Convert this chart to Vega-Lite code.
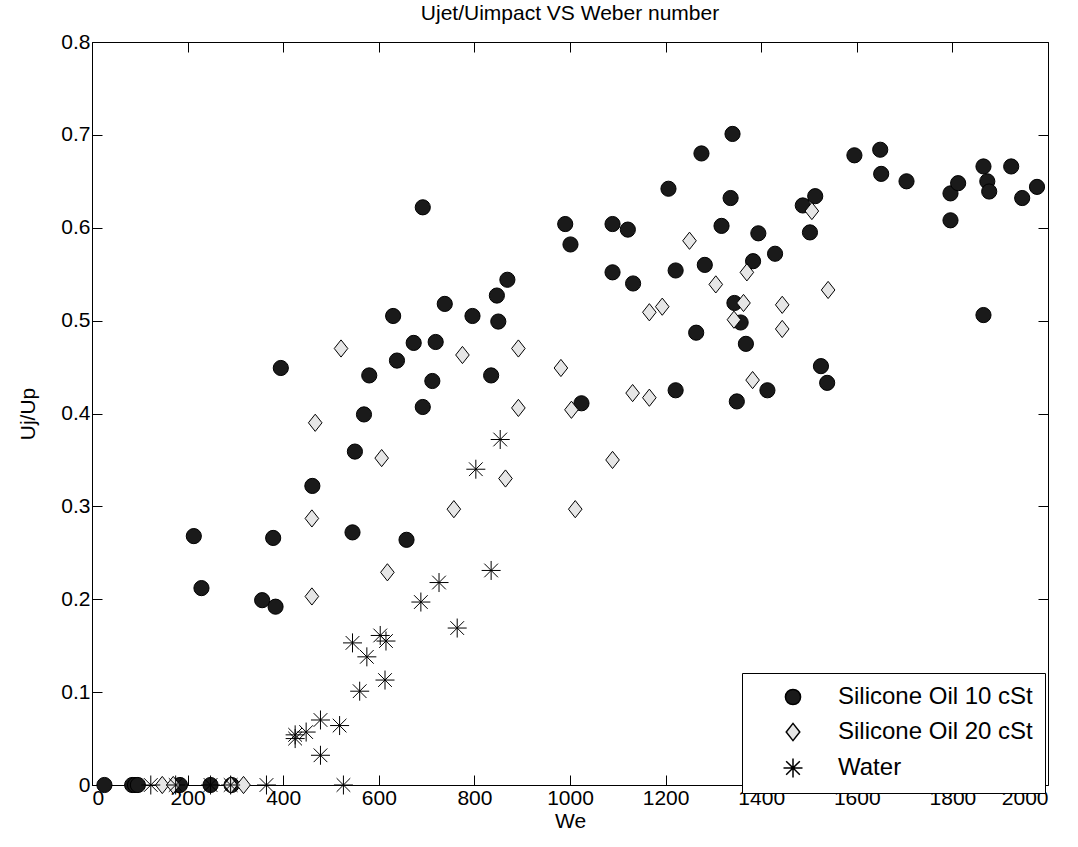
{
  "$schema": "https://vega.github.io/schema/vega-lite/v6.json",
  "width": 956,
  "height": 743,
  "autosize": {"type": "none"},
  "padding": {"left": 92, "top": 42, "right": 30, "bottom": 62},
  "background": "white",
  "config": {
    "font": "Liberation Sans",
    "view": {"stroke": "black", "strokeWidth": 1},
    "axis": {"grid": false, "domainColor": "black", "tickColor": "black", "labelColor": "black", "titleColor": "black", "labelFont": "Liberation Sans", "titleFont": "Liberation Sans", "labelFontSize": 21, "titleFontSize": 21, "titleFontWeight": "normal", "tickSize": -10, "zindex": 0},
    "legend": {"title": null, "orient": "none", "legendX": 650, "legendY": 631, "strokeColor": "black", "fillColor": "white", "cornerRadius": 0, "padding": 12, "rowPadding": 11, "symbolOffset": 27, "labelOffset": 33, "labelFontSize": 24, "labelFont": "Liberation Sans", "labelColor": "black", "labelLimit": 400, "zindex": 5}
  },
  "title": {"text": "Ujet/Uimpact VS Weber number", "fontSize": 21, "fontWeight": "normal", "font": "Liberation Sans", "color": "black", "offset": 7},
  "data": {"values": [
    {"We": 26, "v": 0, "series": "Silicone Oil 10 cSt"},
    {"We": 84, "v": 0, "series": "Silicone Oil 10 cSt"},
    {"We": 90, "v": 0, "series": "Silicone Oil 10 cSt"},
    {"We": 96, "v": 0, "series": "Silicone Oil 10 cSt"},
    {"We": 184, "v": 0, "series": "Silicone Oil 10 cSt"},
    {"We": 248, "v": 0, "series": "Silicone Oil 10 cSt"},
    {"We": 292, "v": 0, "series": "Silicone Oil 10 cSt"},
    {"We": 213, "v": 0.268, "series": "Silicone Oil 10 cSt"},
    {"We": 229, "v": 0.212, "series": "Silicone Oil 10 cSt"},
    {"We": 356, "v": 0.199, "series": "Silicone Oil 10 cSt"},
    {"We": 379, "v": 0.266, "series": "Silicone Oil 10 cSt"},
    {"We": 384, "v": 0.192, "series": "Silicone Oil 10 cSt"},
    {"We": 395, "v": 0.449, "series": "Silicone Oil 10 cSt"},
    {"We": 461, "v": 0.322, "series": "Silicone Oil 10 cSt"},
    {"We": 545, "v": 0.272, "series": "Silicone Oil 10 cSt"},
    {"We": 550, "v": 0.359, "series": "Silicone Oil 10 cSt"},
    {"We": 569, "v": 0.399, "series": "Silicone Oil 10 cSt"},
    {"We": 580, "v": 0.441, "series": "Silicone Oil 10 cSt"},
    {"We": 630, "v": 0.505, "series": "Silicone Oil 10 cSt"},
    {"We": 638, "v": 0.457, "series": "Silicone Oil 10 cSt"},
    {"We": 658, "v": 0.264, "series": "Silicone Oil 10 cSt"},
    {"We": 673, "v": 0.476, "series": "Silicone Oil 10 cSt"},
    {"We": 692, "v": 0.622, "series": "Silicone Oil 10 cSt"},
    {"We": 692, "v": 0.407, "series": "Silicone Oil 10 cSt"},
    {"We": 712, "v": 0.435, "series": "Silicone Oil 10 cSt"},
    {"We": 719, "v": 0.477, "series": "Silicone Oil 10 cSt"},
    {"We": 738, "v": 0.518, "series": "Silicone Oil 10 cSt"},
    {"We": 796, "v": 0.505, "series": "Silicone Oil 10 cSt"},
    {"We": 835, "v": 0.441, "series": "Silicone Oil 10 cSt"},
    {"We": 847, "v": 0.527, "series": "Silicone Oil 10 cSt"},
    {"We": 850, "v": 0.499, "series": "Silicone Oil 10 cSt"},
    {"We": 869, "v": 0.544, "series": "Silicone Oil 10 cSt"},
    {"We": 990, "v": 0.604, "series": "Silicone Oil 10 cSt"},
    {"We": 1001, "v": 0.582, "series": "Silicone Oil 10 cSt"},
    {"We": 1024, "v": 0.411, "series": "Silicone Oil 10 cSt"},
    {"We": 1089, "v": 0.604, "series": "Silicone Oil 10 cSt"},
    {"We": 1089, "v": 0.552, "series": "Silicone Oil 10 cSt"},
    {"We": 1121, "v": 0.598, "series": "Silicone Oil 10 cSt"},
    {"We": 1132, "v": 0.54, "series": "Silicone Oil 10 cSt"},
    {"We": 1206, "v": 0.642, "series": "Silicone Oil 10 cSt"},
    {"We": 1221, "v": 0.554, "series": "Silicone Oil 10 cSt"},
    {"We": 1221, "v": 0.425, "series": "Silicone Oil 10 cSt"},
    {"We": 1264, "v": 0.487, "series": "Silicone Oil 10 cSt"},
    {"We": 1275, "v": 0.68, "series": "Silicone Oil 10 cSt"},
    {"We": 1282, "v": 0.56, "series": "Silicone Oil 10 cSt"},
    {"We": 1317, "v": 0.602, "series": "Silicone Oil 10 cSt"},
    {"We": 1336, "v": 0.632, "series": "Silicone Oil 10 cSt"},
    {"We": 1340, "v": 0.701, "series": "Silicone Oil 10 cSt"},
    {"We": 1344, "v": 0.519, "series": "Silicone Oil 10 cSt"},
    {"We": 1349, "v": 0.413, "series": "Silicone Oil 10 cSt"},
    {"We": 1357, "v": 0.498, "series": "Silicone Oil 10 cSt"},
    {"We": 1368, "v": 0.475, "series": "Silicone Oil 10 cSt"},
    {"We": 1383, "v": 0.564, "series": "Silicone Oil 10 cSt"},
    {"We": 1394, "v": 0.594, "series": "Silicone Oil 10 cSt"},
    {"We": 1413, "v": 0.425, "series": "Silicone Oil 10 cSt"},
    {"We": 1429, "v": 0.572, "series": "Silicone Oil 10 cSt"},
    {"We": 1487, "v": 0.624, "series": "Silicone Oil 10 cSt"},
    {"We": 1502, "v": 0.595, "series": "Silicone Oil 10 cSt"},
    {"We": 1513, "v": 0.634, "series": "Silicone Oil 10 cSt"},
    {"We": 1525, "v": 0.451, "series": "Silicone Oil 10 cSt"},
    {"We": 1538, "v": 0.433, "series": "Silicone Oil 10 cSt"},
    {"We": 1595, "v": 0.678, "series": "Silicone Oil 10 cSt"},
    {"We": 1649, "v": 0.684, "series": "Silicone Oil 10 cSt"},
    {"We": 1651, "v": 0.658, "series": "Silicone Oil 10 cSt"},
    {"We": 1704, "v": 0.65, "series": "Silicone Oil 10 cSt"},
    {"We": 1796, "v": 0.637, "series": "Silicone Oil 10 cSt"},
    {"We": 1796, "v": 0.608, "series": "Silicone Oil 10 cSt"},
    {"We": 1812, "v": 0.648, "series": "Silicone Oil 10 cSt"},
    {"We": 1865, "v": 0.666, "series": "Silicone Oil 10 cSt"},
    {"We": 1865, "v": 0.506, "series": "Silicone Oil 10 cSt"},
    {"We": 1873, "v": 0.65, "series": "Silicone Oil 10 cSt"},
    {"We": 1877, "v": 0.639, "series": "Silicone Oil 10 cSt"},
    {"We": 1923, "v": 0.666, "series": "Silicone Oil 10 cSt"},
    {"We": 1946, "v": 0.632, "series": "Silicone Oil 10 cSt"},
    {"We": 1977, "v": 0.644, "series": "Silicone Oil 10 cSt"},
    {"We": 147, "v": 0, "series": "Silicone Oil 20 cSt"},
    {"We": 170, "v": 0, "series": "Silicone Oil 20 cSt"},
    {"We": 290, "v": 0, "series": "Silicone Oil 20 cSt"},
    {"We": 317, "v": 0, "series": "Silicone Oil 20 cSt"},
    {"We": 460, "v": 0.203, "series": "Silicone Oil 20 cSt"},
    {"We": 460, "v": 0.287, "series": "Silicone Oil 20 cSt"},
    {"We": 467, "v": 0.39, "series": "Silicone Oil 20 cSt"},
    {"We": 521, "v": 0.47, "series": "Silicone Oil 20 cSt"},
    {"We": 606, "v": 0.352, "series": "Silicone Oil 20 cSt"},
    {"We": 618, "v": 0.229, "series": "Silicone Oil 20 cSt"},
    {"We": 757, "v": 0.297, "series": "Silicone Oil 20 cSt"},
    {"We": 775, "v": 0.463, "series": "Silicone Oil 20 cSt"},
    {"We": 865, "v": 0.33, "series": "Silicone Oil 20 cSt"},
    {"We": 892, "v": 0.47, "series": "Silicone Oil 20 cSt"},
    {"We": 892, "v": 0.406, "series": "Silicone Oil 20 cSt"},
    {"We": 981, "v": 0.449, "series": "Silicone Oil 20 cSt"},
    {"We": 1003, "v": 0.404, "series": "Silicone Oil 20 cSt"},
    {"We": 1011, "v": 0.297, "series": "Silicone Oil 20 cSt"},
    {"We": 1089, "v": 0.35, "series": "Silicone Oil 20 cSt"},
    {"We": 1131, "v": 0.422, "series": "Silicone Oil 20 cSt"},
    {"We": 1166, "v": 0.509, "series": "Silicone Oil 20 cSt"},
    {"We": 1166, "v": 0.417, "series": "Silicone Oil 20 cSt"},
    {"We": 1193, "v": 0.515, "series": "Silicone Oil 20 cSt"},
    {"We": 1250, "v": 0.586, "series": "Silicone Oil 20 cSt"},
    {"We": 1305, "v": 0.539, "series": "Silicone Oil 20 cSt"},
    {"We": 1343, "v": 0.501, "series": "Silicone Oil 20 cSt"},
    {"We": 1363, "v": 0.519, "series": "Silicone Oil 20 cSt"},
    {"We": 1370, "v": 0.552, "series": "Silicone Oil 20 cSt"},
    {"We": 1382, "v": 0.436, "series": "Silicone Oil 20 cSt"},
    {"We": 1444, "v": 0.517, "series": "Silicone Oil 20 cSt"},
    {"We": 1444, "v": 0.491, "series": "Silicone Oil 20 cSt"},
    {"We": 1506, "v": 0.618, "series": "Silicone Oil 20 cSt"},
    {"We": 1540, "v": 0.533, "series": "Silicone Oil 20 cSt"},
    {"We": 123, "v": 0, "series": "Water"},
    {"We": 175, "v": 0, "series": "Water"},
    {"We": 248, "v": 0, "series": "Water"},
    {"We": 290, "v": 0, "series": "Water"},
    {"We": 365, "v": 0, "series": "Water"},
    {"We": 526, "v": 0, "series": "Water"},
    {"We": 425, "v": 0.054, "series": "Water"},
    {"We": 425, "v": 0.05, "series": "Water"},
    {"We": 448, "v": 0.057, "series": "Water"},
    {"We": 478, "v": 0.07, "series": "Water"},
    {"We": 478, "v": 0.032, "series": "Water"},
    {"We": 518, "v": 0.064, "series": "Water"},
    {"We": 545, "v": 0.153, "series": "Water"},
    {"We": 560, "v": 0.101, "series": "Water"},
    {"We": 575, "v": 0.138, "series": "Water"},
    {"We": 603, "v": 0.161, "series": "Water"},
    {"We": 615, "v": 0.155, "series": "Water"},
    {"We": 613, "v": 0.113, "series": "Water"},
    {"We": 688, "v": 0.197, "series": "Water"},
    {"We": 726, "v": 0.218, "series": "Water"},
    {"We": 764, "v": 0.169, "series": "Water"},
    {"We": 803, "v": 0.34, "series": "Water"},
    {"We": 835, "v": 0.231, "series": "Water"},
    {"We": 854, "v": 0.372, "series": "Water"}
  ]},
  "layer": [
    {
      "mark": {"type": "point", "opacity": 0},
      "encoding": {
        "x": {"field": "We", "type": "quantitative", "scale": {"domain": [0, 2000], "nice": false, "zero": false},
              "axis": {"orient": "top", "values": [0, 200, 400, 600, 800, 1000, 1200, 1400, 1600, 1800, 2000], "labels": false, "domain": false, "title": null}},
        "y": {"field": "v", "type": "quantitative", "scale": {"domain": [0, 0.8], "nice": false, "zero": false},
              "axis": {"orient": "right", "values": [0.2, 0.3, 0.4, 0.5, 0.6, 0.7, 0.8], "labels": false, "domain": false, "title": null}}
      }
    },
    {
      "mark": {"type": "point", "opacity": 0},
      "encoding": {
        "x": {"field": "We", "type": "quantitative", "scale": {"domain": [0, 2000], "nice": false, "zero": false},
              "axis": {"orient": "bottom", "values": [0, 200, 400, 600, 800, 1000, 1200], "labels": false, "domain": false, "title": null}},
        "y": {"field": "v", "type": "quantitative", "scale": {"domain": [0, 0.8], "nice": false, "zero": false}, "axis": null}
      }
    },
    {
      "mark": {"type": "point", "filled": true, "stroke": "black", "strokeWidth": 1, "opacity": 1},
      "encoding": {
        "x": {"field": "We", "type": "quantitative", "scale": {"domain": [0, 2000], "nice": false, "zero": false},
              "axis": {"orient": "bottom", "values": [0, 200, 400, 600, 800, 1000, 1200, 1400, 1600, 1800, 2000], "format": "d", "title": "We", "ticks": false, "labelPadding": 2, "titlePadding": 2}},
        "y": {"field": "v", "type": "quantitative", "scale": {"domain": [0, 0.8], "nice": false, "zero": false},
              "axis": {"orient": "left", "values": [0, 0.1, 0.2, 0.3, 0.4, 0.5, 0.6, 0.7, 0.8], "format": ".1~f", "title": "Uj/Up", "labelPadding": 12, "titlePadding": 22}},
        "shape": {"field": "series", "type": "nominal",
                  "scale": {"domain": ["Silicone Oil 10 cSt", "Silicone Oil 20 cSt", "Water"], "range": ["circle", "M0,-1L0.79,0L0,1L-0.79,0Z", "M-1,0L1,0M0,-1L0,1M-0.72,-0.72L0.72,0.72M-0.72,0.72L0.72,-0.72"]},
                  "legend": {"encode": {"symbols": {"update": {"stroke": {"value": "black"}, "strokeWidth": {"value": 1}}}}}},
        "fill": {"field": "series", "type": "nominal",
                 "scale": {"domain": ["Silicone Oil 10 cSt", "Silicone Oil 20 cSt", "Water"], "range": ["#1a1a1a", "#e6e6e6", "#000000"]},
                 "legend": {"encode": {"symbols": {"update": {"stroke": {"value": "black"}, "strokeWidth": {"value": 1}}}}}},
        "size": {"field": "series", "type": "nominal",
                 "scale": {"domain": ["Silicone Oil 10 cSt", "Silicone Oil 20 cSt", "Water"], "range": [230, 361, 200]},
                 "legend": {"encode": {"symbols": {"update": {"stroke": {"value": "black"}, "strokeWidth": {"value": 1}}}}}}
      }
    }
  ],
  "resolve": {"axis": {"x": "independent", "y": "independent"}}
}
